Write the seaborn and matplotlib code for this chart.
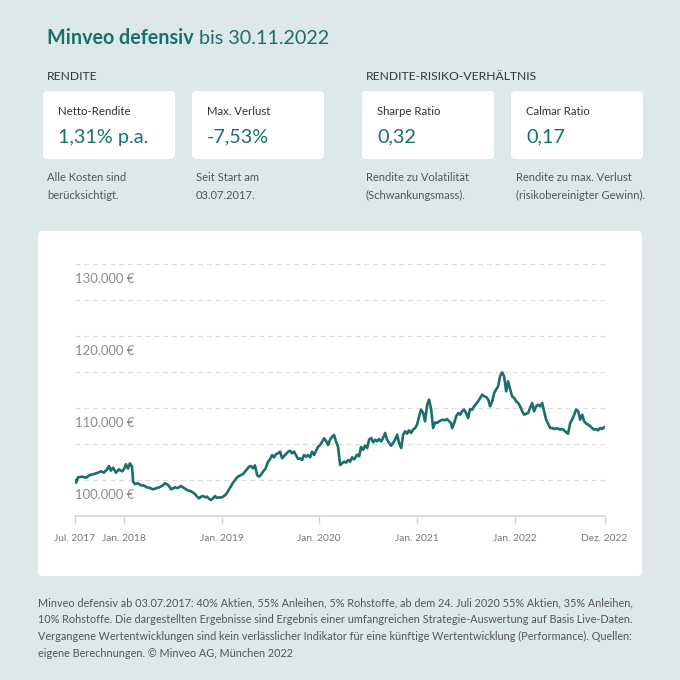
import numpy as np
import pandas as pd
import matplotlib
matplotlib.use("Agg")
import matplotlib.pyplot as plt
from matplotlib.patches import FancyBboxPatch
from matplotlib.transforms import offset_copy
import seaborn as sns

# portfolio value (EUR)
dates = [
    "2017-07-03", "2017-07-07", "2017-07-14", "2017-07-29", "2017-08-13", "2017-08-28",
    "2017-09-12", "2017-09-27", "2017-10-08", "2017-10-19", "2017-10-31", "2017-11-07",
    "2017-11-14", "2017-11-22", "2017-12-03", "2017-12-14", "2017-12-26", "2018-01-02",
    "2018-01-09", "2018-01-17", "2018-01-24", "2018-02-01", "2018-02-05", "2018-02-12",
    "2018-02-23", "2018-03-07", "2018-03-18", "2018-03-29", "2018-04-09", "2018-04-20",
    "2018-05-02", "2018-05-13", "2018-05-24", "2018-06-04", "2018-06-12", "2018-06-19",
    "2018-06-27", "2018-07-04", "2018-07-12", "2018-07-19", "2018-07-26", "2018-08-03",
    "2018-08-10", "2018-08-18", "2018-08-25", "2018-09-02", "2018-09-09", "2018-09-17",
    "2018-09-24", "2018-10-02", "2018-10-09", "2018-10-17", "2018-10-24", "2018-11-01",
    "2018-11-08", "2018-11-15", "2018-11-23", "2018-11-30", "2018-12-08", "2018-12-15",
    "2018-12-23", "2018-12-30", "2019-01-07", "2019-01-14", "2019-01-22", "2019-01-29",
    "2019-02-06", "2019-02-13", "2019-02-21", "2019-02-28", "2019-03-08", "2019-03-15",
    "2019-03-22", "2019-03-30", "2019-04-06", "2019-04-14", "2019-04-21", "2019-04-29",
    "2019-05-06", "2019-05-14", "2019-05-21", "2019-05-29", "2019-06-05", "2019-06-13",
    "2019-06-16", "2019-06-24", "2019-07-01", "2019-07-09", "2019-07-16", "2019-07-24",
    "2019-07-31", "2019-08-08", "2019-08-15", "2019-08-23", "2019-08-30", "2019-09-07",
    "2019-09-14", "2019-09-21", "2019-09-29", "2019-10-06", "2019-10-14", "2019-10-21",
    "2019-10-29", "2019-11-05", "2019-11-13", "2019-11-20", "2019-11-28", "2019-12-05",
    "2019-12-13", "2019-12-20", "2019-12-28", "2020-01-04", "2020-01-12", "2020-01-19",
    "2020-01-26", "2020-02-03", "2020-02-10", "2020-02-18", "2020-02-25", "2020-03-04",
    "2020-03-11", "2020-03-19", "2020-03-26", "2020-04-03", "2020-04-10", "2020-04-18",
    "2020-04-25", "2020-05-03", "2020-05-10", "2020-05-14", "2020-05-21", "2020-05-29",
    "2020-06-05", "2020-06-13", "2020-06-20", "2020-06-28", "2020-07-05", "2020-07-13",
    "2020-07-20", "2020-07-28", "2020-08-04", "2020-08-11", "2020-08-19", "2020-08-26",
    "2020-09-03", "2020-09-10", "2020-09-18", "2020-09-25", "2020-10-03", "2020-10-10",
    "2020-10-18", "2020-10-25", "2020-11-02", "2020-11-09", "2020-11-17", "2020-11-24",
    "2020-12-01", "2020-12-09", "2020-12-16", "2020-12-24", "2020-12-31", "2021-01-08",
    "2021-01-15", "2021-01-23", "2021-01-30", "2021-02-07", "2021-02-14", "2021-02-22",
    "2021-03-01", "2021-03-09", "2021-03-16", "2021-03-24", "2021-03-31", "2021-04-07",
    "2021-04-15", "2021-04-22", "2021-04-30", "2021-05-07", "2021-05-11", "2021-05-19",
    "2021-05-26", "2021-06-03", "2021-06-10", "2021-06-17", "2021-06-25", "2021-07-02",
    "2021-07-10", "2021-07-17", "2021-07-25", "2021-08-01", "2021-08-09", "2021-08-16",
    "2021-08-24", "2021-08-31", "2021-09-08", "2021-09-15", "2021-09-23", "2021-09-30",
    "2021-10-08", "2021-10-15", "2021-10-22", "2021-10-30", "2021-11-06", "2021-11-14",
    "2021-11-21", "2021-11-29", "2021-12-06", "2021-12-14", "2021-12-21", "2021-12-29",
    "2022-01-05", "2022-01-13", "2022-01-20", "2022-01-28", "2022-02-04", "2022-02-11",
    "2022-02-19", "2022-02-26", "2022-03-06", "2022-03-13", "2022-03-21", "2022-03-28",
    "2022-04-05", "2022-04-12", "2022-04-20", "2022-04-27", "2022-05-05", "2022-05-12",
    "2022-05-20", "2022-05-27", "2022-06-04", "2022-06-11", "2022-06-18", "2022-06-26",
    "2022-07-03", "2022-07-11", "2022-07-18", "2022-07-26", "2022-08-02", "2022-08-10",
    "2022-08-17", "2022-08-25", "2022-09-01", "2022-09-09", "2022-09-16", "2022-09-24",
    "2022-10-01", "2022-10-09", "2022-10-16", "2022-10-23", "2022-10-31", "2022-11-07",
    "2022-11-15", "2022-11-22", "2022-11-30",
]
values = [
    100000, 99630, 100370, 100460, 100320, 100690,
    100830, 101020, 101200, 101020, 101480, 101940,
    101300, 101710, 101020, 101480, 101200, 101530,
    102180, 101570, 102310, 101850, 99770, 99440,
    99540, 99260, 99210, 98980, 98890, 98700,
    98840, 98980, 99170, 99550, 99400, 99170,
    98700, 98840, 98980, 98890, 98980, 99170,
    98980, 98800, 98610, 98520, 98430, 98240,
    98060, 97690, 97450, 97690, 97780, 97590,
    97690, 97410, 97220, 97450, 97780, 97500,
    97590, 97550, 97690, 97870, 98240, 98700,
    99170, 99630, 100000, 100370, 100560, 100690,
    100830, 101160, 101480, 101850, 101940, 101620,
    102040, 100690, 100460, 100740, 101160, 101500,
    101760, 102550, 102870, 103470, 103150, 103610,
    103700, 103940, 103010, 103330, 103610, 103940,
    104070, 103700, 103940, 103470, 102920, 103010,
    102780, 103470, 103240, 103470, 103150, 103940,
    103470, 104070, 104630, 104860, 105320, 105790,
    105460, 104860, 105560, 106020, 106250, 105320,
    104630, 102080, 102310, 102550, 102410, 102780,
    102550, 103150, 102870, 103060, 103520, 103290,
    104580, 104210, 104770, 104440, 105600, 105830,
    105230, 105600, 105370, 105690, 105370, 105830,
    106530, 105600, 105140, 104770, 105140, 105600,
    106300, 105140, 104440, 106300, 106760, 106440,
    106900, 106530, 106990, 107220, 107690, 108840,
    109770, 109310, 108150, 110460, 111160, 109770,
    107220, 108010, 107920, 108150, 108290, 108380,
    108290, 108470, 108150, 107900, 107220, 107920,
    108840, 109310, 109070, 109540, 109770, 109310,
    108610, 109860, 109770, 110230, 110600, 110930,
    111390, 111850, 111620, 111530, 111160, 110230,
    110930, 112080, 112550, 113010, 114400, 114950,
    114400, 112310, 113700, 112550, 111620, 111390,
    110930, 110690, 110230, 109540, 109070, 109200,
    109310, 110000, 110690, 109540, 110230, 110460,
    110230, 110690, 109500, 108400, 107800, 107220,
    107220, 107080, 107170, 107130, 106990, 107080,
    106900, 106620, 106440, 107920, 108380, 109070,
    109770, 109540, 108380, 109070, 108150, 107830,
    107690, 107450, 107220, 106990, 107080, 106900,
    107220, 107080, 107360,
]

y_grid = [100000, 105000, 110000, 115000, 120000, 125000, 130000]
y_ticks = [100000, 110000, 120000, 130000]
y_labels = ["100.000 €", "110.000 €", "120.000 €", "130.000 €"]
x_ticks = ["2017-07-03", "2018-01-01", "2019-01-01", "2020-01-01",
           "2021-01-01", "2022-01-01", "2022-12-01"]
x_labels = ["Jul. 2017", "Jan. 2018", "Jan. 2019", "Jan. 2020",
            "Jan. 2021", "Jan. 2022", "Dez. 2022"]

kpi_titles = ["Netto-Rendite", "Max. Verlust", "Sharpe Ratio", "Calmar Ratio"]
kpi_values = ["1,31% p.a.", "-7,53%", "0,32", "0,17"]
kpi_notes = [("Alle Kosten sind", "berücksichtigt."),
             ("Seit Start am", "03.07.2017."),
             ("Rendite zu Volatilität", "(Schwankungsmass)."),
             ("Rendite zu max. Verlust", "(risikobereinigter Gewinn).")]

footer_lines = [
    "Minveo defensiv ab 03.07.2017: 40% Aktien, 55% Anleihen, 5% Rohstoffe, ab dem 24. Juli 2020 55% Aktien, 35% Anleihen,",
    "10% Rohstoffe. Die dargestellten Ergebnisse sind Ergebnis einer umfangreichen Strategie-Auswertung auf Basis Live-Daten.",
    "Vergangene Wertentwicklungen sind kein verlässlicher Indikator für eine künftige Wertentwicklung (Performance). Quellen:",
    "eigene Berechnungen. © Minveo AG, München 2022",
]

BG = "#dce9e8"
TEAL = "#1b6f6b"
DARK = "#333333"
MID = "#555555"

sns.set_theme(style="white")
plt.rcParams["font.family"] = ["Lato", "DejaVu Sans"]

W = 680.0


def fx(x):
    return x / W


def fy(y):
    return 1 - y / W


def card(x0, y0, x1, y1):
    p = FancyBboxPatch((fx(x0), fy(y1)), (x1 - x0) / W, (y1 - y0) / W,
                       boxstyle="round,pad=0,rounding_size=0.007",
                       transform=fig.transFigure, fc="white", ec="none", zorder=0)
    fig.add_artist(p)


fig = plt.figure(figsize=(6.8, 6.8), dpi=100)
fig.patch.set_facecolor(BG)

# title, bold part + regular part
t1 = fig.text(fx(47), fy(43.5), "Minveo defensiv", fontsize=14.2, fontweight="bold",
              color=TEAL, va="baseline", ha="left")
fig.canvas.draw()
ext = t1.get_window_extent()
fig.text(ext.x1 / W, fy(43.5), " bis 30.11.2022", fontsize=14.2, color=TEAL,
         va="baseline", ha="left")

fig.text(fx(47), fy(80), "RENDITE", fontsize=8.7, color=DARK, va="baseline")
fig.text(fx(366), fy(80), "RENDITE-RISIKO-VERHÄLTNIS", fontsize=8.7, color=DARK, va="baseline")

card_x = [43, 192, 362, 511]
note_x = [47, 196, 366, 516]
for i in range(4):
    card(card_x[i], 91, card_x[i] + 132, 159)
    fig.text(fx(card_x[i] + 15), fy(115), kpi_titles[i], fontsize=8.2, color=DARK, va="baseline")
    fig.text(fx(card_x[i] + 15), fy(142.5), kpi_values[i], fontsize=14.3, color=TEAL, va="baseline")
    fig.text(fx(note_x[i]), fy(181.5), kpi_notes[i][0], fontsize=8.0, color=MID, va="baseline")
    fig.text(fx(note_x[i]), fy(198.5), kpi_notes[i][1], fontsize=8.0, color=MID, va="baseline")

# chart card
card(38, 231, 642, 576)

ax = fig.add_axes([fx(75), fy(516), (604.5 - 75) / W, (516 - 264) / W])
ax.set_zorder(5)
ax.set_facecolor("none")

df = pd.DataFrame({"date": pd.to_datetime(dates), "value": values})
sns.lineplot(data=df, x="date", y="value", ax=ax, color=TEAL, linewidth=1.9)

ax.set_xlim(pd.Timestamp("2017-07-03"), pd.Timestamp("2022-12-01"))
ax.set_ylim(95000, 130000)
ax.set_yticks(y_grid)
ax.set_yticklabels([])
ax.tick_params(axis="y", length=0)
ax.yaxis.grid(True, color="#dcdcdc", linestyle=(0, (4, 3)), linewidth=0.9)
ax.xaxis.grid(False)

lab_tr = offset_copy(ax.get_yaxis_transform(), fig=fig, y=-15, units="dots")
for v, s in zip(y_ticks, y_labels):
    ax.text(0, v, s, transform=lab_tr, ha="left", va="center", fontsize=9.4, color="#8a8a8a")

ax.set_xticks(pd.to_datetime(x_ticks))
ax.set_xticklabels(x_labels)
ax.tick_params(axis="x", length=6, width=1, color="#d5d5d5", labelsize=7.4,
               labelcolor="#777777", pad=7, bottom=True)
for side in ["top", "left", "right"]:
    ax.spines[side].set_visible(False)
ax.spines["bottom"].set_color("#d5d5d5")
ax.spines["bottom"].set_linewidth(1.2)
ax.set_xlabel("")
ax.set_ylabel("")

for k, line in enumerate(footer_lines):
    fig.text(fx(38), fy(606.5 + 16.7 * k), line, fontsize=7.8, color=MID, va="baseline", ha="left")

fig.savefig("out.png", dpi=100, facecolor=BG)
